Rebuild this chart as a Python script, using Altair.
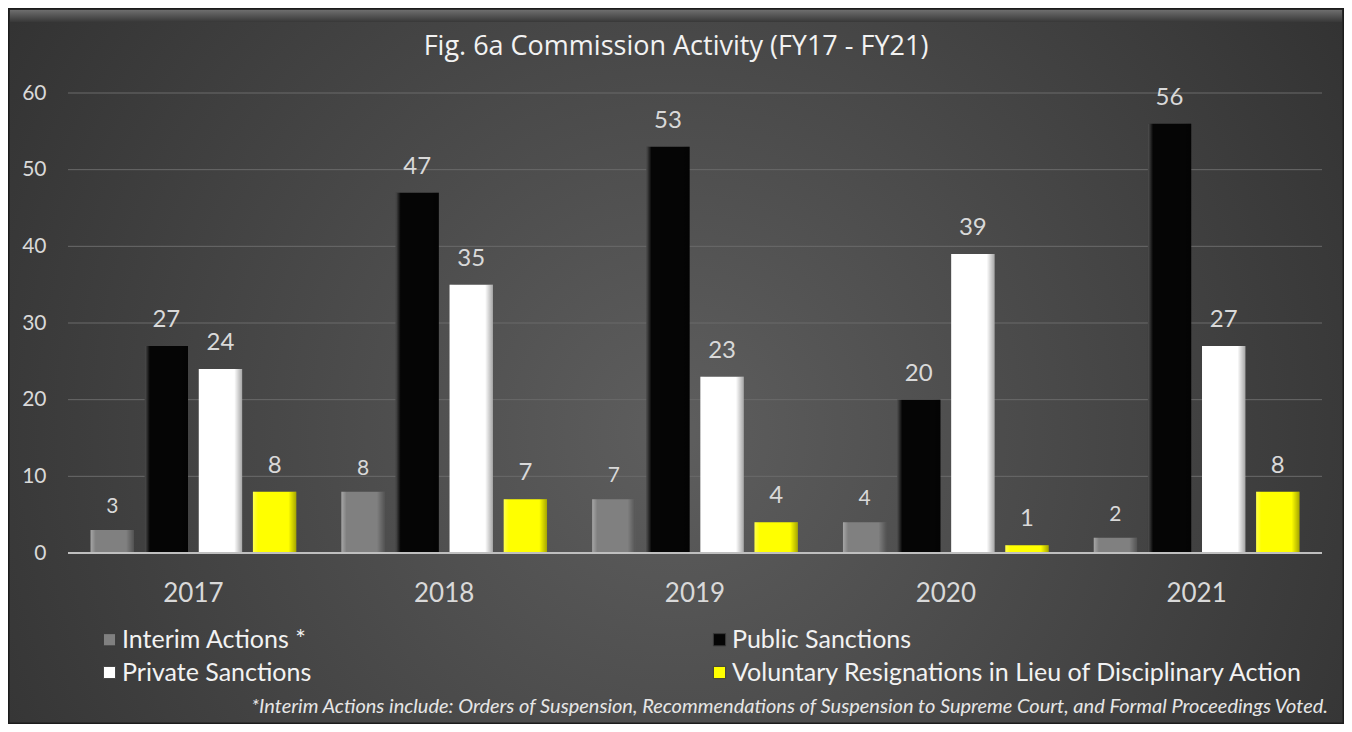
import altair as alt
import pandas as pd

years = ["2017", "2018", "2019", "2020", "2021"]
series = [
    "Interim Actions *",
    "Public Sanctions",
    "Private Sanctions",
    "Voluntary Resignations in Lieu of Disciplinary Action",
]
interim = [3, 8, 7, 4, 2]
public = [27, 47, 53, 20, 56]
private = [24, 35, 23, 39, 27]
voluntary = [8, 7, 4, 1, 8]
colors = ["#808080", "#050505", "#ffffff", "#ffff00"]
# legend is filled column by column: col 1 = Interim, Private; col 2 = Public, Voluntary
legend_order = [series[0], series[2], series[1], series[3]]
legend_colors = [colors[0], colors[2], colors[1], colors[3]]
grid_ticks = [10, 20, 30, 40, 50, 60]
zero_tick = [0]
y_ticks = [0, 10, 20, 30, 40, 50, 60]
title_text = "Fig. 6a Commission Activity (FY17 - FY21)"
footnote = ("*Interim Actions include: Orders of Suspension, Recommendations of "
            "Suspension to Supreme Court, and Formal Proceedings Voted.")

rows = []
for s, vals in zip(series, [interim, public, private, voluntary]):
    for yr, v in zip(years, vals):
        rows.append({"year": yr, "series": s, "value": v})
df = pd.DataFrame(rows)
one = pd.DataFrame({"k": [0]})
grid_df = pd.DataFrame({"value": grid_ticks})
zero_df = pd.DataFrame({"value": zero_tick})

W, H = 1254, 460
PL, PT, PR, PB = 60, 85, 22, 171
FONT = "Lato"
TXT = "#d9d9d9"

x_scale = alt.Scale(domain=years, paddingInner=0.18, paddingOuter=0.09)
y_scale = alt.Scale(domain=[0, 60], nice=False)
xo_scale = alt.Scale(domain=series, paddingInner=0.2)

x_axis = alt.Axis(title=None, labelAngle=0, labelFontSize=26, labelColor=TXT,
                  labelFont=FONT, domain=False, ticks=False, labelPadding=27,
                  grid=False, zindex=2)
y_axis = alt.Axis(title=None, values=y_ticks, labelFontSize=21, labelColor=TXT,
                  labelFont=FONT, domain=False, ticks=False, grid=False,
                  labelPadding=22, zindex=2)

X = alt.X("year:N", scale=x_scale, axis=x_axis)
XO = alt.XOffset("series:N", scale=xo_scale)
Y = alt.Y("value:Q", scale=y_scale, axis=y_axis)

# background with radial gradient
bg = alt.Chart(one).mark_rect(
    fill=alt.Gradient(gradient="radial", x1=0.5, y1=0.55, r1=0.0,
                      x2=0.5, y2=0.55, r2=0.72,
                      stops=[alt.GradientStop(offset=0, color="#5e5e5e"),
                             alt.GradientStop(offset=1, color="#292929")]),
    stroke="#1c1c1c", strokeWidth=3,
).encode(x=alt.value(-PL), x2=alt.value(W + PR), y=alt.value(-PT), y2=alt.value(H + PB))

bevel = alt.Chart(one).mark_rect(
    fill=alt.Gradient(gradient="linear", x1=0, x2=0, y1=0, y2=1,
                      stops=[alt.GradientStop(offset=0, color="#6e6e6e"),
                             alt.GradientStop(offset=1, color="#383838")]),
).encode(x=alt.value(-PL + 2), x2=alt.value(W + PR - 2), y=alt.value(-PT + 2), y2=alt.value(-PT + 14))

grid = alt.Chart(grid_df).mark_rule(color="#6a6a6a", strokeWidth=1).encode(
    y=Y, x=alt.value(0), x2=alt.value(W))

bars = alt.Chart(df).mark_bar().encode(
    x=X, xOffset=XO, y=Y,
    color=alt.Color("series:N",
                    scale=alt.Scale(domain=legend_order, range=legend_colors),
                    legend=alt.Legend(orient="none", legendX=29, legendY=534,
                                      columns=2, columnPadding=395, title=None,
                                      labelFontSize=25, labelFont=FONT,
                                      labelColor="#f2f2f2", labelLimit=900,
                                      symbolType="square", symbolSize=150,
                                      symbolStrokeColor="#3a3a3a",
                                      symbolStrokeWidth=1, rowPadding=7,
                                      labelOffset=0, padding=0, zindex=2)),
)

shade = alt.Chart(df).mark_bar(
    fill=alt.Gradient(gradient="linear", x1=0, x2=1, y1=0, y2=0,
                      stops=[alt.GradientStop(offset=0, color="rgba(255,255,255,0.30)"),
                             alt.GradientStop(offset=0.12, color="rgba(255,255,255,0.0)"),
                             alt.GradientStop(offset=0.82, color="rgba(0,0,0,0.0)"),
                             alt.GradientStop(offset=1, color="rgba(0,0,0,0.35)")]),
).encode(x=X, xOffset=XO, y=Y)

zero = alt.Chart(zero_df).mark_rule(color="#bfbfbf", strokeWidth=2).encode(
    y=Y, x=alt.value(0), x2=alt.value(W))

labels_big = alt.Chart(df).transform_filter(
    alt.datum.series != series[0]
).mark_text(dy=-19, baseline="alphabetic", fontSize=24, font=FONT, color=TXT).encode(
    x=X, xOffset=XO, y=Y, text="value:Q")

labels_small = alt.Chart(df).transform_filter(
    alt.datum.series == series[0]
).mark_text(dy=-17, baseline="alphabetic", fontSize=21, font=FONT, color=TXT).encode(
    x=X, xOffset=XO, y=Y, text="value:Q")

title = alt.Chart(one).mark_text(fontSize=27, font="Open Sans", color="#f2f2f2",
                                 align="center", baseline="middle").encode(
    x=alt.value(608), y=alt.value(-46), text=alt.value(title_text))

foot = alt.Chart(one).mark_text(fontSize=20, font=FONT, fontStyle="italic",
                                color="#e6e6e6", align="right",
                                baseline="middle").encode(
    x=alt.value(1260), y=alt.value(614), text=alt.value(footnote))

chart = alt.layer(bg, bevel, grid, bars, shade, zero, labels_big, labels_small,
                  title, foot).properties(
    width=W, height=H,
    autosize=alt.AutoSizeParams(type="none"),
    padding={"left": PL, "top": PT, "right": PR, "bottom": PB},
).configure_view(stroke=None).configure(background="#2b2b2b")

chart.save("out.html", embed_options={"renderer": "svg", "actions": False})
